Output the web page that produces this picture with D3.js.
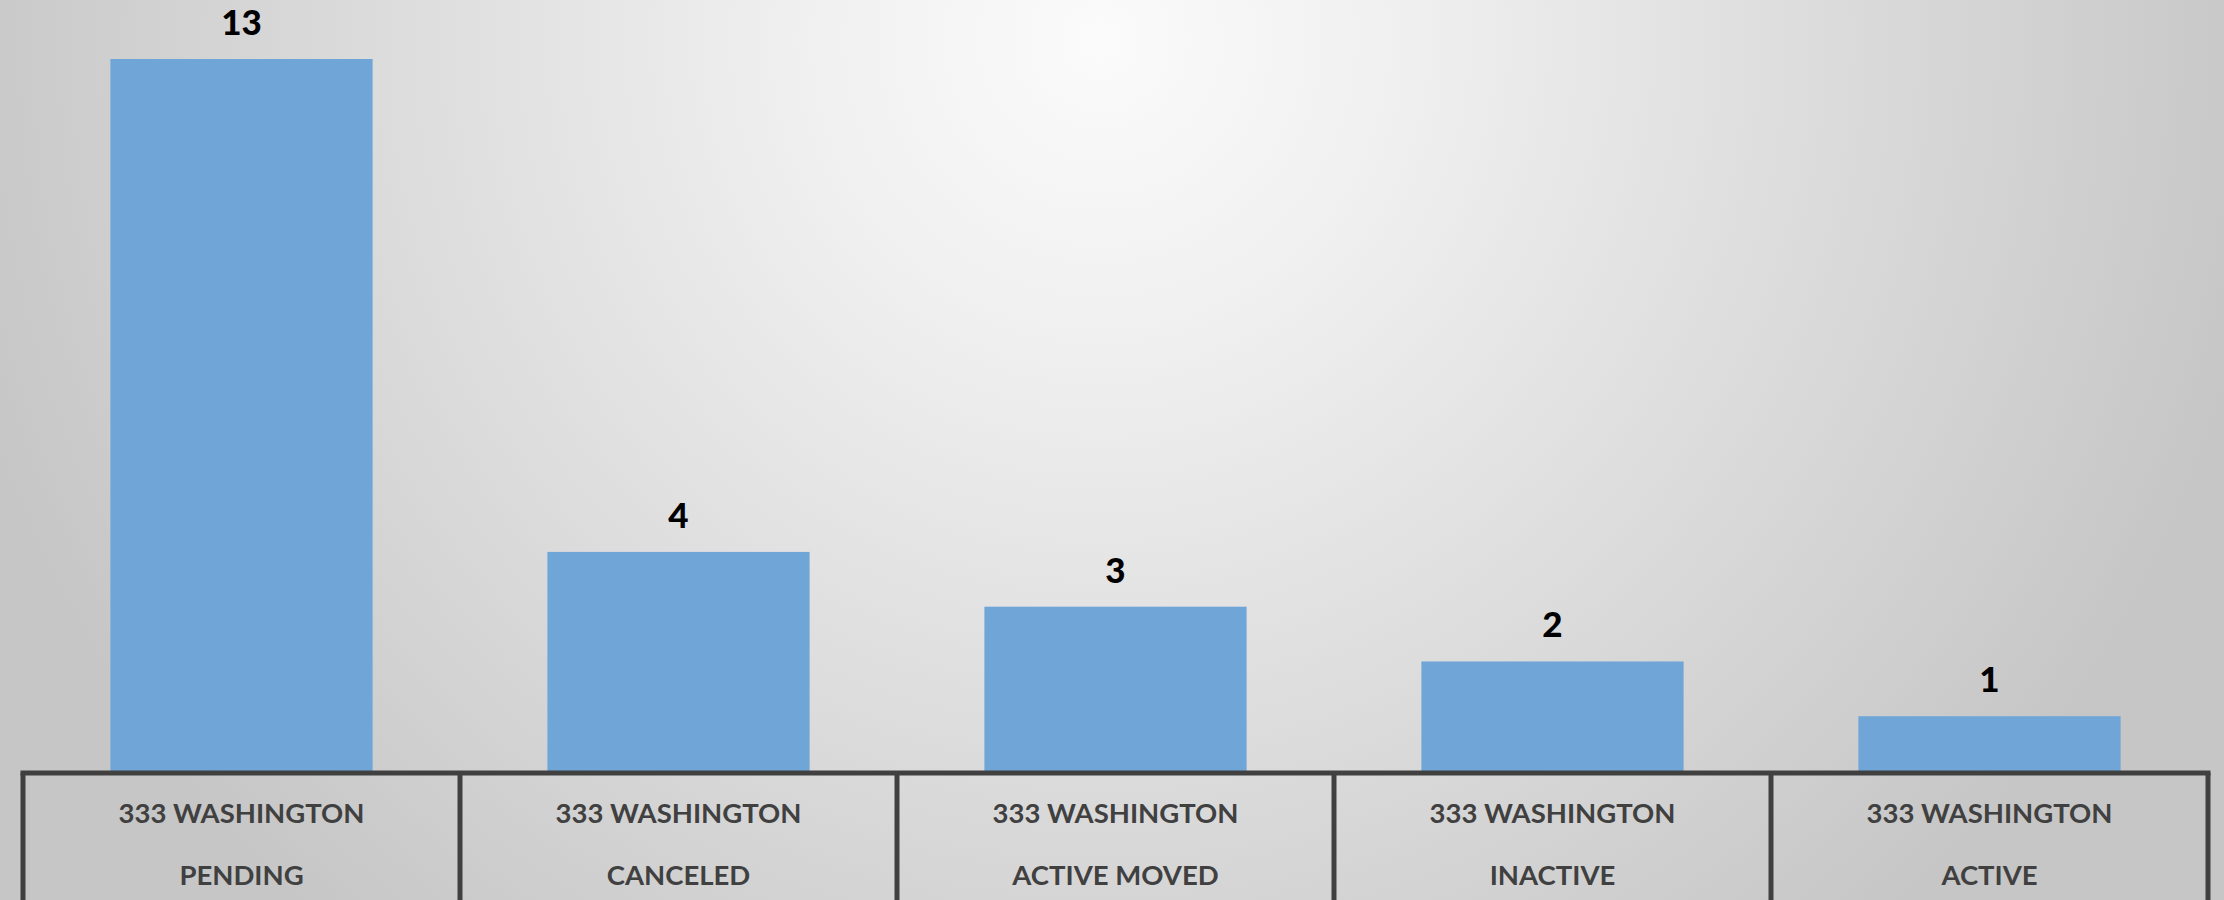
<!DOCTYPE html>
<html>
<head>
<meta charset="utf-8">
<script src="https://cdn.jsdelivr.net/npm/d3@7"></script>
<style>
    body { margin: 0; overflow: hidden; }
    svg { display: block; }
</style>
</head>
<body>
<script>
const WIDTH = 2224;
const HEIGHT = 900;

// chart data
const addresses = ["333 WASHINGTON", "333 WASHINGTON", "333 WASHINGTON", "333 WASHINGTON", "333 WASHINGTON"];
const statuses = ["PENDING", "CANCELED", "ACTIVE MOVED", "INACTIVE", "ACTIVE"];
const counts = [13, 4, 3, 2, 1];

const data = statuses.map((s, i) => ({status: s, address: addresses[i], count: counts[i]}));

const svg = d3.select("body").append("svg")
    .attr("width", WIDTH).attr("height", HEIGHT);

// Background: soft radial gradient, light at the top middle.
const grad = svg.append("defs").append("radialGradient")
    .attr("id", "bg")
    .attr("gradientUnits", "userSpaceOnUse")
    .attr("cx", 1100).attr("cy", 40).attr("r", 1180);
grad.append("stop").attr("offset", "0%").attr("stop-color", "#fbfbfb");
grad.append("stop").attr("offset", "25%").attr("stop-color", "#f0f0f0");
grad.append("stop").attr("offset", "100%").attr("stop-color", "#c6c6c6");

svg.append("rect")
    .attr("width", WIDTH).attr("height", HEIGHT)
    .attr("fill", "url(#bg)");

const axisY = 773;

// One cell per category, bars take 60% of the cell.
const x = d3.scaleBand()
    .domain(statuses)
    .range([23, 2208])
    .padding(0);

const y = d3.scaleLinear()
    .domain([0, 13])
    .range([771, 59]);

const barW = x.bandwidth() * 0.6;

// Bars
svg.selectAll("rect.bar")
    .data(data)
    .enter()
    .append("rect")
        .attr("class", "bar")
        .attr("x", d => x(d.status) + (x.bandwidth() - barW) / 2)
        .attr("y", d => y(d.count))
        .attr("width", barW)
        .attr("height", d => y(0) - y(d.count))
        .style("fill", "#6fa5d7");

// Value labels
svg.selectAll("text.value")
    .data(data)
    .enter()
    .append("text")
        .attr("class", "value")
        .attr("x", d => x(d.status) + x.bandwidth() / 2)
        .attr("y", d => y(d.count) - 24)
        .attr("text-anchor", "middle")
        .attr("font-family", "Lato, sans-serif")
        .attr("font-weight", "900")
        .attr("font-size", "35px")
        .attr("fill", "#000")
        .text(d => d.count);

// Category axis drawn as a table of cells
const axisColor = "#404040";
svg.append("line")
    .attr("x1", x.range()[0] - 2.5).attr("x2", x.range()[1] + 2.5)
    .attr("y1", axisY).attr("y2", axisY)
    .attr("stroke", axisColor).attr("stroke-width", 5);

const edges = statuses.map(s => x(s)).concat([x.range()[1]]);
svg.selectAll("line.divider")
    .data(edges)
    .enter()
    .append("line")
        .attr("class", "divider")
        .attr("x1", d => d).attr("x2", d => d)
        .attr("y1", axisY).attr("y2", HEIGHT)
        .attr("stroke", axisColor).attr("stroke-width", 5);

const labels = svg.selectAll("g.cat")
    .data(data)
    .enter()
    .append("g")
        .attr("class", "cat")
        .attr("transform", d => "translate(" + (x(d.status) + x.bandwidth() / 2) + ",0)");

labels.append("text")
    .attr("y", 823)
    .attr("text-anchor", "middle")
    .attr("font-family", "Lato, sans-serif")
    .attr("font-weight", "bold")
    .attr("font-size", "27.5px")
    .attr("fill", "#404040")
    .text(d => d.address);

labels.append("text")
    .attr("y", 885)
    .attr("text-anchor", "middle")
    .attr("font-family", "Lato, sans-serif")
    .attr("font-weight", "bold")
    .attr("font-size", "27.5px")
    .attr("fill", "#404040")
    .text(d => d.status);
</script>
</body>
</html>
